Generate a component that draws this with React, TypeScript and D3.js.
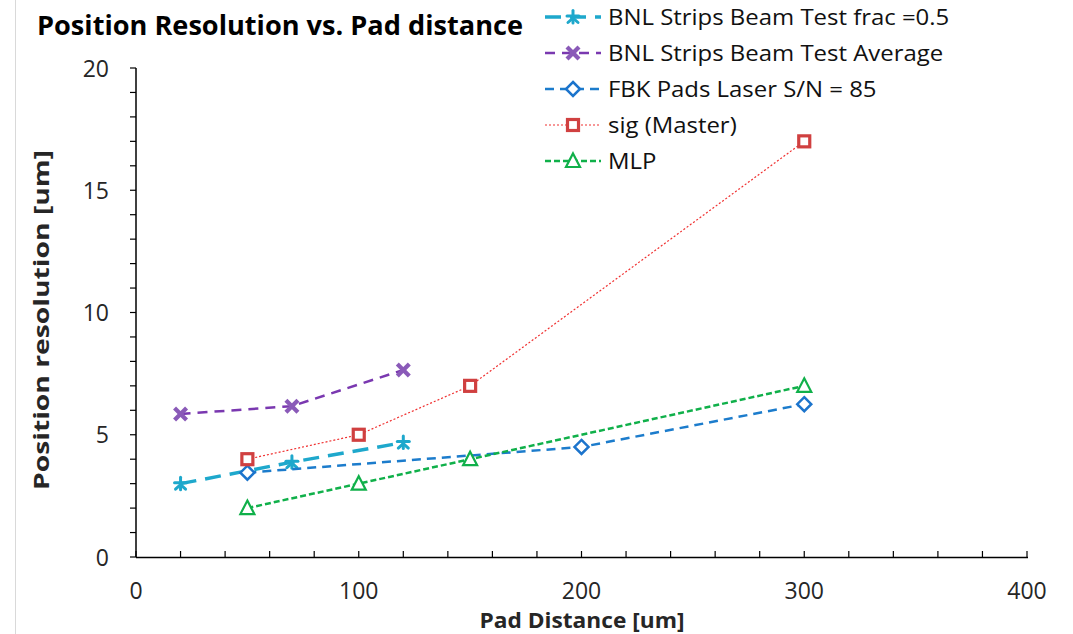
import React from "react";
import * as d3 from "d3";

const bnlFracX = [20, 70, 120];
const bnlFracY = [3.0, 3.88, 4.68];
const bnlAvgX = [20, 70, 120];
const bnlAvgY = [5.85, 6.17, 7.65];
const fbkX = [50, 200, 300];
const fbkY = [3.45, 4.5, 6.25];
const sigX = [50, 100, 150, 300];
const sigY = [4.0, 5.0, 7.0, 17.0];
const mlpX = [50, 100, 150, 300];
const mlpY = [2.0, 3.0, 4.0, 7.0];
const xTicks = [0, 100, 200, 300, 400];
const yTicks = [0, 5, 10, 15, 20];
const seriesNames = [
  "BNL Strips Beam Test frac =0.5",
  "BNL Strips Beam Test Average",
  "FBK Pads Laser S/N = 85",
  "sig (Master)",
  "MLP",
];

const W = 1073;
const H = 634;
const FONT = "'Open Sans', 'Noto Sans', sans-serif";

type Marker = "star" | "x" | "diamond" | "square" | "triangle";

interface Series {
  name: string;
  xs: number[];
  ys: number[];
  line: string;
  markerColor: string;
  width: number;
  dash: string;
  marker: Marker;
}

const series: Series[] = [
  { name: seriesNames[0], xs: bnlFracX, ys: bnlFracY, line: "#1ea8cc", markerColor: "#1ea8cc", width: 3.5, dash: "16 9", marker: "star" },
  { name: seriesNames[1], xs: bnlAvgX, ys: bnlAvgY, line: "#7a38b0", markerColor: "#8a5ab8", width: 2.5, dash: "10 7", marker: "x" },
  { name: seriesNames[2], xs: fbkX, ys: fbkY, line: "#1c7ccc", markerColor: "#1c74cc", width: 2.5, dash: "9 6", marker: "diamond" },
  { name: seriesNames[3], xs: sigX, ys: sigY, line: "#f03030", markerColor: "#d04040", width: 1.2, dash: "2 2", marker: "square" },
  { name: seriesNames[4], xs: mlpX, ys: mlpY, line: "#10b04a", markerColor: "#10b04a", width: 2.5, dash: "6 3", marker: "triangle" },
];

function MarkerShape({ type, color, x, y }: { type: Marker; color: string; x: number; y: number }) {
  const t = `translate(${x},${y})`;
  switch (type) {
    case "star":
      return (
        <g transform={t} stroke={color} strokeWidth={3} strokeLinecap="round">
          <line x1={0} y1={-6.5} x2={0} y2={6} />
          <line x1={-6} y1={-1} x2={6} y2={-1} />
          <line x1={-5} y1={5.5} x2={0} y2={1} />
          <line x1={5} y1={5.5} x2={0} y2={1} />
        </g>
      );
    case "x":
      return (
        <g transform={t} stroke={color} strokeWidth={4.2} strokeLinecap="butt">
          <line x1={-6} y1={-6} x2={6} y2={6} />
          <line x1={-6} y1={6} x2={6} y2={-6} />
        </g>
      );
    case "diamond":
      return (
        <path transform={t} d="M0,-7L7,0L0,7L-7,0Z" fill="#fff" stroke={color} strokeWidth={2.5} />
      );
    case "square":
      return <rect transform={t} x={-5.5} y={-5.5} width={11} height={11} fill="#fff" stroke={color} strokeWidth={3.2} />;
    case "triangle":
      return <path transform={t} d="M0,-7.5L7,6L-7,6Z" fill="#fff" stroke={color} strokeWidth={2.2} />;
  }
}

export default function App() {
  const x = d3.scaleLinear().domain([0, 400]).range([136, 1027]);
  const y = d3.scaleLinear().domain([0, 20]).range([557, 68]);
  const minorX = d3.range(0, 401, 20);
  const minorY = d3.range(0, 21, 1);

  return (
    <svg width={W} height={H} style={{ display: "block", position: "absolute", left: 0, top: 0 }} fontFamily={FONT}>
      <rect x={0} y={0} width={W} height={H} fill="#fff" />
      <line x1={15.5} y1={0} x2={15.5} y2={H} stroke="#d9d9d9" strokeWidth={1} />

      <text x={37} y={35} fontSize={26} fontWeight="bold" fill="#000" textLength={486} lengthAdjust="spacingAndGlyphs">
        Position Resolution vs. Pad distance
      </text>

      {/* axes */}
      <line x1={x(0)} y1={y(0) + 0.5} x2={x(400) + 1} y2={y(0) + 0.5} stroke="#000" strokeWidth={1.5} />
      <line x1={x(0)} y1={y(20)} x2={x(0)} y2={y(0)} stroke="#000" strokeWidth={1.5} />
      {minorX.map((v) => (
        <line key={"mx" + v} x1={x(v)} x2={x(v)} y1={y(0)} y2={y(0) - 6} stroke="#000" strokeWidth={1.2} />
      ))}
      {minorY.map((v) => (
        <line key={"my" + v} x1={x(0) - 6} x2={x(0)} y1={y(v)} y2={y(v)} stroke="#000" strokeWidth={1.2} />
      ))}
      {xTicks.map((v) => (
        <text key={"xt" + v} x={x(v)} y={599} fontSize={23} textAnchor="middle" fill="#262626">
          {v}
        </text>
      ))}
      {yTicks.map((v) => (
        <text key={"yt" + v} x={109} y={y(v) + 8.5} fontSize={23} textAnchor="end" fill="#262626">
          {v}
        </text>
      ))}
      <text x={582} y={628} fontSize={21} fontWeight="bold" textAnchor="middle" fill="#262626" textLength={205} lengthAdjust="spacingAndGlyphs">
        Pad Distance [um]
      </text>
      <text transform={`translate(49,320) rotate(-90)`} fontSize={22} fontWeight="bold" textAnchor="middle" fill="#262626" textLength={340} lengthAdjust="spacingAndGlyphs">
        Position resolution [um]
      </text>

      {/* series */}
      {series.map((s, i) => {
        const pts = s.xs.map((v, j) => [x(v), y(s.ys[j])] as [number, number]);
        const path = d3.line()(pts) || "";
        return (
          <g key={"s" + i}>
            <path d={path} fill="none" stroke={s.line} strokeWidth={s.width} strokeDasharray={s.dash} />
            {pts.map((p, j) => (
              <MarkerShape key={j} type={s.marker} color={s.markerColor} x={p[0]} y={p[1]} />
            ))}
          </g>
        );
      })}

      {/* legend */}
      {series.map((s, i) => {
        const ly = 17 + i * 36;
        return (
          <g key={"l" + i}>
            <line x1={545} x2={601} y1={ly} y2={ly} stroke={s.line} strokeWidth={s.width} strokeDasharray={s.dash} />
            <MarkerShape type={s.marker} color={s.markerColor} x={573} y={ly} />
            <text transform={`translate(608,${ly + 7.5}) scale(1.14,1)`} fontSize={21} fill="#111">
              {s.name}
            </text>
          </g>
        );
      })}
    </svg>
  );
}
